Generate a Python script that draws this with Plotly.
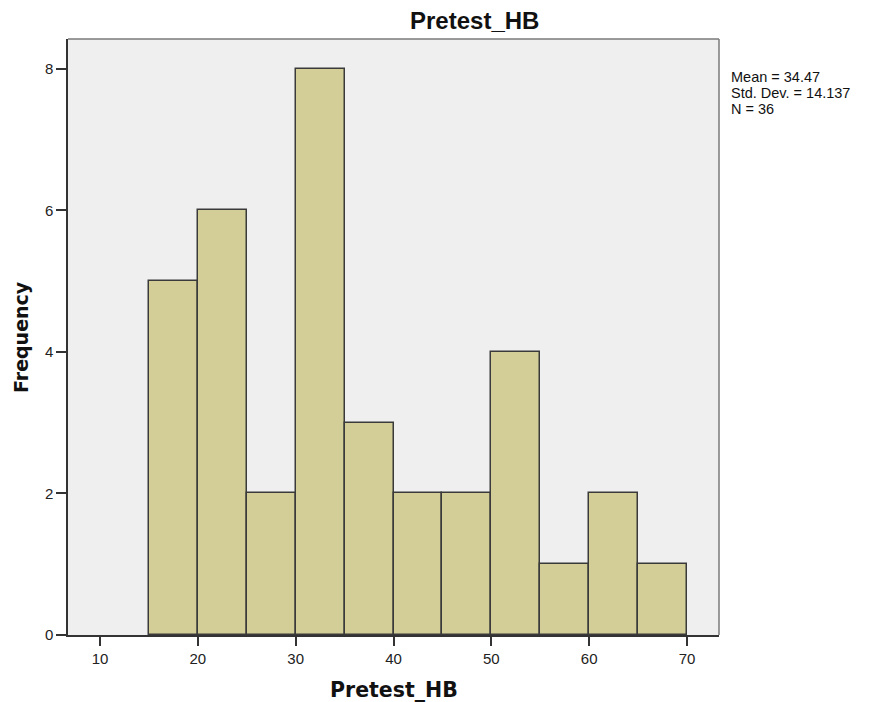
import plotly.graph_objects as go

bin_starts = [15, 20, 25, 30, 35, 40, 45, 50, 55, 60, 65]
counts = [5, 6, 2, 8, 3, 2, 2, 4, 1, 2, 1]
bin_width = 5
x_ticks = [10, 20, 30, 40, 50, 60, 70]
y_ticks = [0, 2, 4, 6, 8]
stats_lines = ["Mean = 34.47", "Std. Dev. = 14.137", "N = 36"]
chart_title = "Pretest_HB"
x_title = "Pretest_HB"
y_title = "Frequency"

centers = [s + bin_width / 2 for s in bin_starts]

# page offset (browser body margin) compensation
OFF = 8
L, R, T, B = 60, 158, 31, 75
W, H = 869, 702
PW, PH = W - L - R, H - T - B


def px(xp):
    return (xp - OFF - L) / PW


def py(yp):
    return 1 - (yp - OFF - T) / PH


SANS = "Liberation Sans, Arial, sans-serif"
WIDE = "DejaVu Sans, Verdana, sans-serif"

fig = go.Figure()
fig.add_trace(go.Bar(
    x=centers, y=counts, width=[bin_width] * len(counts),
    marker=dict(color="#d3ce97", line=dict(color="#3a3a3a", width=1.5)),
    hoverinfo="x+y",
))

annotations = [
    dict(text="<b>" + chart_title + "</b>", xref="paper", yref="paper",
         x=px(474.5), y=py(21), xanchor="center", yanchor="middle", showarrow=False,
         font=dict(size=24, family=SANS, color="#111")),
    dict(text="<b>" + x_title + "</b>", xref="paper", yref="paper",
         x=px(394), y=py(690), xanchor="center", yanchor="middle", showarrow=False,
         font=dict(size=20.5, family=WIDE, color="#111")),
    dict(text="<b>" + y_title + "</b>", xref="paper", yref="paper",
         x=px(21), y=py(337), xanchor="center", yanchor="middle", showarrow=False,
         textangle=-90, font=dict(size=19, family=WIDE, color="#111")),
]
for i, line in enumerate(stats_lines):
    annotations.append(dict(text=line, xref="paper", yref="paper",
                            x=px(729), y=py(77 + 16 * i), xanchor="left", yanchor="middle",
                            showarrow=False, font=dict(size=14.5, family=SANS, color="#111")))

fig.update_layout(
    width=W, height=H,
    margin=dict(l=L, r=R, t=T, b=B),
    paper_bgcolor="white", plot_bgcolor="#efefef",
    showlegend=False,
    bargap=0,
    font=dict(family=SANS, color="#222", size=15),
    xaxis=dict(range=[6.73, 73.27], tickvals=x_ticks, ticks="outside", ticklen=9,
               tickcolor="#333", tickwidth=1.5, showgrid=False, zeroline=False,
               showline=True, linecolor="#333", linewidth=1.5,
               tickfont=dict(size=15, color="#222")),
    yaxis=dict(range=[0, 8.42], tickvals=y_ticks, ticks="outside", ticklen=10,
               tickcolor="#333", tickwidth=1.5, showgrid=False, zeroline=False,
               showline=True, linecolor="#333", linewidth=1.5,
               tickfont=dict(size=15, color="#222")),
    shapes=[
        dict(type="line", xref="paper", yref="paper", x0=0, x1=1, y0=1, y1=1,
             line=dict(color="#7a7a7a", width=1.5)),
        dict(type="line", xref="paper", yref="paper", x0=1, x1=1, y0=0, y1=1,
             line=dict(color="#7a7a7a", width=1.5)),
    ],
    annotations=annotations,
)

fig.write_html("out.html")
